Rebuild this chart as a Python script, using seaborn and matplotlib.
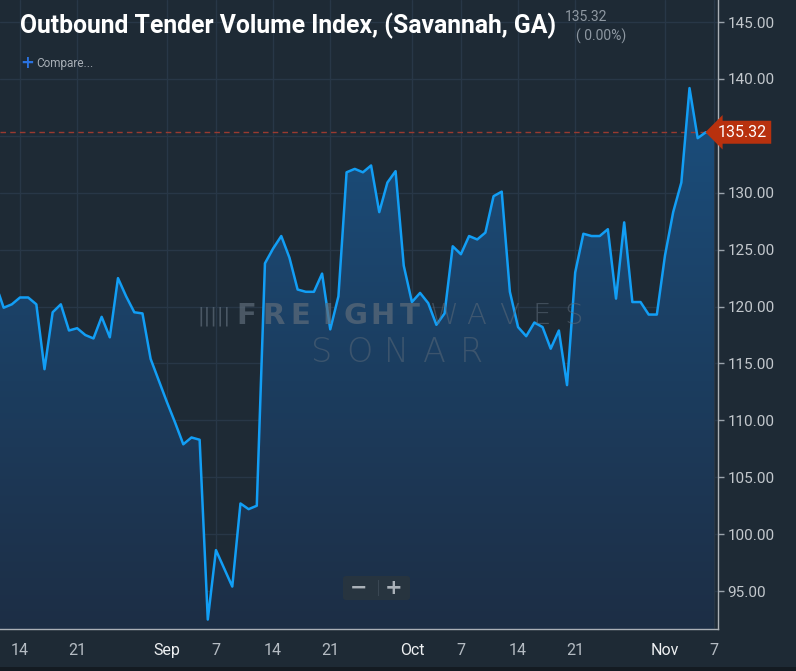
import numpy as np
import pandas as pd
import matplotlib
matplotlib.use("Agg")
import matplotlib.pyplot as plt
import matplotlib.dates as mdates
from matplotlib.colors import LinearSegmentedColormap
from matplotlib.patches import FancyBboxPatch, Rectangle
import seaborn as sns

# daily index values, Aug 11 - Nov 7 2019
start_date = "2019-08-11"
end_date = "2019-11-07"
aug_values = [122.0, 119.9, 120.2, 120.8, 120.8, 120.2, 114.5, 119.5, 120.2, 117.9,
              118.1, 117.5, 117.2, 119.1, 117.3, 122.5, 120.9, 119.5, 119.4, 115.4, 113.5]
sep_values = [111.6, 109.8, 107.9, 108.5, 108.3, 92.5, 98.6, 97.0, 95.4, 102.7,
              102.2, 102.5, 123.8, 125.1, 126.2, 124.3, 121.5, 121.3, 121.3, 122.9,
              118.0, 120.9, 131.8, 132.1, 131.8, 132.4, 128.3, 130.9, 131.9, 123.6]
oct_values = [120.4, 121.2, 120.3, 118.4, 119.4, 125.3, 124.6, 126.2, 125.9, 126.5,
              129.7, 130.1, 121.3, 118.2, 117.4, 118.6, 118.2, 116.3, 117.9, 113.1,
              123.0, 126.4, 126.2, 126.2, 126.8, 120.7, 127.4, 120.4, 120.4, 119.3, 119.3]
nov_values = [124.5, 128.3, 130.9, 139.2, 134.8, 135.32, 135.32]

tick_dates = ["2019-08-14", "2019-08-21", "2019-09-01", "2019-09-07", "2019-09-14",
              "2019-09-21", "2019-10-01", "2019-10-07", "2019-10-14", "2019-10-21",
              "2019-11-01", "2019-11-07"]
tick_labels = ["14", "21", "Sep", "7", "14", "21", "Oct", "7", "14", "21", "Nov", "7"]
y_ticks = [95, 100, 105, 110, 115, 120, 125, 130, 135, 140, 145]

title = "Outbound Tender Volume Index, (Savannah, GA)"

values = aug_values + sep_values + oct_values + nov_values
df = pd.DataFrame({"date": pd.date_range(start_date, end_date, freq="D"), "value": values})
last = values[-1]
prev = values[-2]

BG = "#1e2a35"
GRID = "#283747"
LINE = "#129ef5"
TXT = "#c3c8cd"
font = ["Roboto", "DejaVu Sans"]

sns.set_theme(style="dark")
plt.rcParams["font.family"] = font

fig = plt.figure(figsize=(7.96, 6.71), dpi=100)
fig.patch.set_facecolor(BG)
ax = fig.add_axes([0, 42 / 671, 718 / 796, 629 / 671])
ax.set_facecolor(BG)

x0 = mdates.date2num(pd.Timestamp(end_date)) - 87.45
x1 = mdates.date2num(pd.Timestamp(end_date)) + 0.49
y0, y1 = 91.67, 146.94

# gradient area fill
poly = ax.fill_between(df["date"], df["value"], y0, color="none", lw=0)
cmap = LinearSegmentedColormap.from_list("fill", ["#1d2e45", "#1a5487"])
grad = np.linspace(0, 1, 256).reshape(-1, 1)
im = ax.imshow(grad, cmap=cmap, aspect="auto", origin="lower",
               extent=[x0, x1, y0, y1], zorder=1)
im.set_clip_path(poly.get_paths()[0], transform=ax.transData)

sns.lineplot(data=df, x="date", y="value", ax=ax, color=LINE, lw=1.8, zorder=3)

ax.axhline(last, color="#9a3a30", ls=(0, (4, 3)), lw=1, zorder=2)

ax.set_xlim(x0, x1)
ax.set_ylim(y0, y1)
ax.set_xticks(mdates.date2num(pd.to_datetime(tick_dates)))
ax.set_xticklabels(tick_labels)
ax.set_yticks(y_ticks)
# the 135 label sits under the last-value tag
ax.set_yticklabels(["" if abs(v - last) < 2.5 else f"{v:.2f}" for v in y_ticks])
ax.yaxis.tick_right()
ax.tick_params(axis="x", colors="#9aa3ab", labelsize=11.5, length=5, width=1, pad=5,
               direction="out")
ax.tick_params(axis="y", colors="#9aa3ab", labelcolor=TXT, labelsize=11, length=4,
               width=1, pad=3, direction="out")
for lab in ax.get_xticklabels():
    lab.set_color("#eef0f2" if lab.get_text() in ("Sep", "Oct", "Nov") else "#b5bcc3")
ax.grid(True, color=GRID, lw=1)
ax.set_xlabel("")
ax.set_ylabel("")
for s in ["top", "left"]:
    ax.spines[s].set_visible(False)
for s in ["right", "bottom"]:
    ax.spines[s].set_visible(True)
    ax.spines[s].set_color("#aab0b6")
    ax.spines[s].set_linewidth(1)

# last value tag
ax.text(1.0, last, f"{last:.2f}", transform=ax.get_yaxis_transform(),
        ha="left", va="center", fontsize=11.5, color="white", zorder=6,
        bbox=dict(boxstyle="larrow,pad=0.25", fc="#b8310e", ec="none"), clip_on=False)

# header texts
fig.text(20 / 796, 1 - 26 / 671, title, fontsize=17.8, fontweight="bold", color="white",
         va="center", ha="left")
fig.text(565 / 796, 1 - 17 / 671, f"{last:.2f}", fontsize=10, color="#8e98a2",
         va="center", ha="left")
pct = (last - prev) / prev * 100
fig.text(576 / 796, 1 - 36 / 671, f"( {pct:.2f}%)", fontsize=10, color="#8e98a2",
         va="center", ha="left")
fig.text(20 / 796, 1 - 63 / 671, "+", fontsize=12, color="#2a72e0", fontweight="bold",
         va="center", ha="left", family=["DejaVu Sans"])
fig.text(36 / 796, 1 - 63 / 671, "Compare...", fontsize=8.5, color="#a7aeb5",
         va="center", ha="left")

# watermark, letters spread out like the wide logo type
wm = "#5d6b79"
for i, ch in enumerate("FREIGHT"):
    fig.text((246 + i * 27.3) / 796, 1 - 316 / 671, ch, fontsize=21, fontweight="heavy",
             color=wm, alpha=0.7, va="center", ha="center", family=["DejaVu Sans"],
             zorder=4)
for i, ch in enumerate("WAVES"):
    fig.text((444 + i * 32.5) / 796, 1 - 316 / 671, ch, fontsize=21, fontweight="light",
             color=wm, alpha=0.55, va="center", ha="center", family=["DejaVu Sans"],
             zorder=4)
for i, ch in enumerate("SONAR"):
    fig.text((322 + i * 37.5) / 796, 1 - 352 / 671, ch, fontsize=24, fontweight="light",
             color=wm, alpha=0.5, va="center", ha="center", family=["DejaVu Sans"],
             zorder=4)
fig.text(197 / 796, 1 - 316 / 671, "|||||", fontsize=14, color=wm, alpha=0.7,
         va="center", ha="left", family=["DejaVu Sans"], zorder=4)

# zoom buttons
fig.patches.append(FancyBboxPatch((343 / 796, 1 - 600 / 671), 67 / 796, 24 / 671,
                                  boxstyle="round,pad=0,rounding_size=0.004",
                                  transform=fig.transFigure, fc="#27343f", ec="none",
                                  zorder=5))
fig.text(359 / 796, 1 - 588 / 671, "−", fontsize=15, fontweight="bold", color="#aab1b8",
         va="center", ha="center", family=["DejaVu Sans"], zorder=6)
fig.text(394 / 796, 1 - 588 / 671, "+", fontsize=15, fontweight="bold", color="#aab1b8",
         va="center", ha="center", family=["DejaVu Sans"], zorder=6)
fig.patches.append(Rectangle((377.5 / 796, 1 - 596 / 671), 1 / 796, 16 / 671,
                             transform=fig.transFigure, fc="#3a4753", ec="none", zorder=6))

# bottom band
fig.patches.append(Rectangle((0, 0), 1, 4 / 671, transform=fig.transFigure,
                             fc="#141b22", ec="none"))

fig.savefig("out.png", dpi=100, facecolor=BG)
